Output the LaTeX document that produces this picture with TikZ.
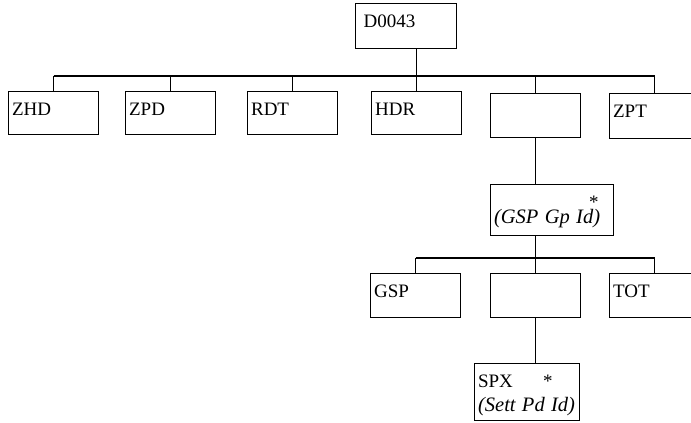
\documentclass[tikz,border=0pt]{standalone}
\usepackage{fontspec}
\setmainfont{Liberation Serif}

\newcommand{\idtext}[1]{\mbox{\fontsize{20.5}{23}\selectfont\itshape #1}}

\tikzset{
  box/.style={draw, line width=1.2pt, anchor=north west, align=left,
    inner xsep=3.5pt, inner ysep=0pt, text width=83pt,
    text height=24pt, text depth=20pt, font=\fontsize{19}{21}\selectfont},
  link/.style={line width=1.7pt}
}

\begin{document}
\begin{tikzpicture}[x=1pt,y=-1pt]
  \useasboundingbox (0,0) rectangle (691,423);

  % Define nodes
  \node[box, inner xsep=8pt, text width=85pt, text depth=21pt] (D0043) at (355,3) {D0043};
  \node[box, text depth=19pt] (ZHD) at (8,91) {ZHD};
  \node[box, text depth=19pt] (ZPD) at (125,91) {ZPD};
  \node[box, text depth=19pt] (RDT) at (247,91) {RDT};
  \node[box, text depth=19pt] (HDR) at (371,91) {HDR};
  \node[box] (BLK1) at (490,93) {};
  \node[box, text depth=21pt] (ZPT) at (609,93) {ZPT};
  \node[box, text width=116pt, text height=24pt, text depth=27pt] (GRP) at (490,184)
    {\hspace*{95pt}*\\[-6pt]\idtext{(GSP Gp Id)}};
  \node[box] (GSP) at (370,273) {GSP};
  \node[box] (BLK2) at (490,273) {};
  \node[box] (TOT) at (609,273) {TOT};
  \node[box, text width=98pt, text depth=33pt] (SPX) at (474,363)
    {\makebox[65pt][l]{SPX}*\\[3pt]\idtext{(Sett Pd Id)}};

  % Connect the nodes
  \coordinate (bus1) at (0,76);
  \coordinate (bus2) at (0,258);
  \draw[link] (HDR.north |- D0043.south) -- (HDR.north |- bus1);
  \draw[link] (ZHD.north |- bus1) -- (ZPT.north |- bus1);
  \foreach \n in {ZHD,ZPD,RDT,HDR,BLK1,ZPT}
    \draw[link] (\n.north) -- (\n.north |- bus1);
  \draw[link] (BLK1.south) -- (BLK1.south |- GRP.north);
  \draw[link] (BLK2.north |- GRP.south) -- (BLK2.north |- bus2);
  \draw[link] (GSP.north |- bus2) -- (TOT.north |- bus2);
  \foreach \n in {GSP,BLK2,TOT}
    \draw[link] (\n.north) -- (\n.north |- bus2);
  \draw[link] (BLK2.south) -- (BLK2.south |- SPX.north);
\end{tikzpicture}
\end{document}
